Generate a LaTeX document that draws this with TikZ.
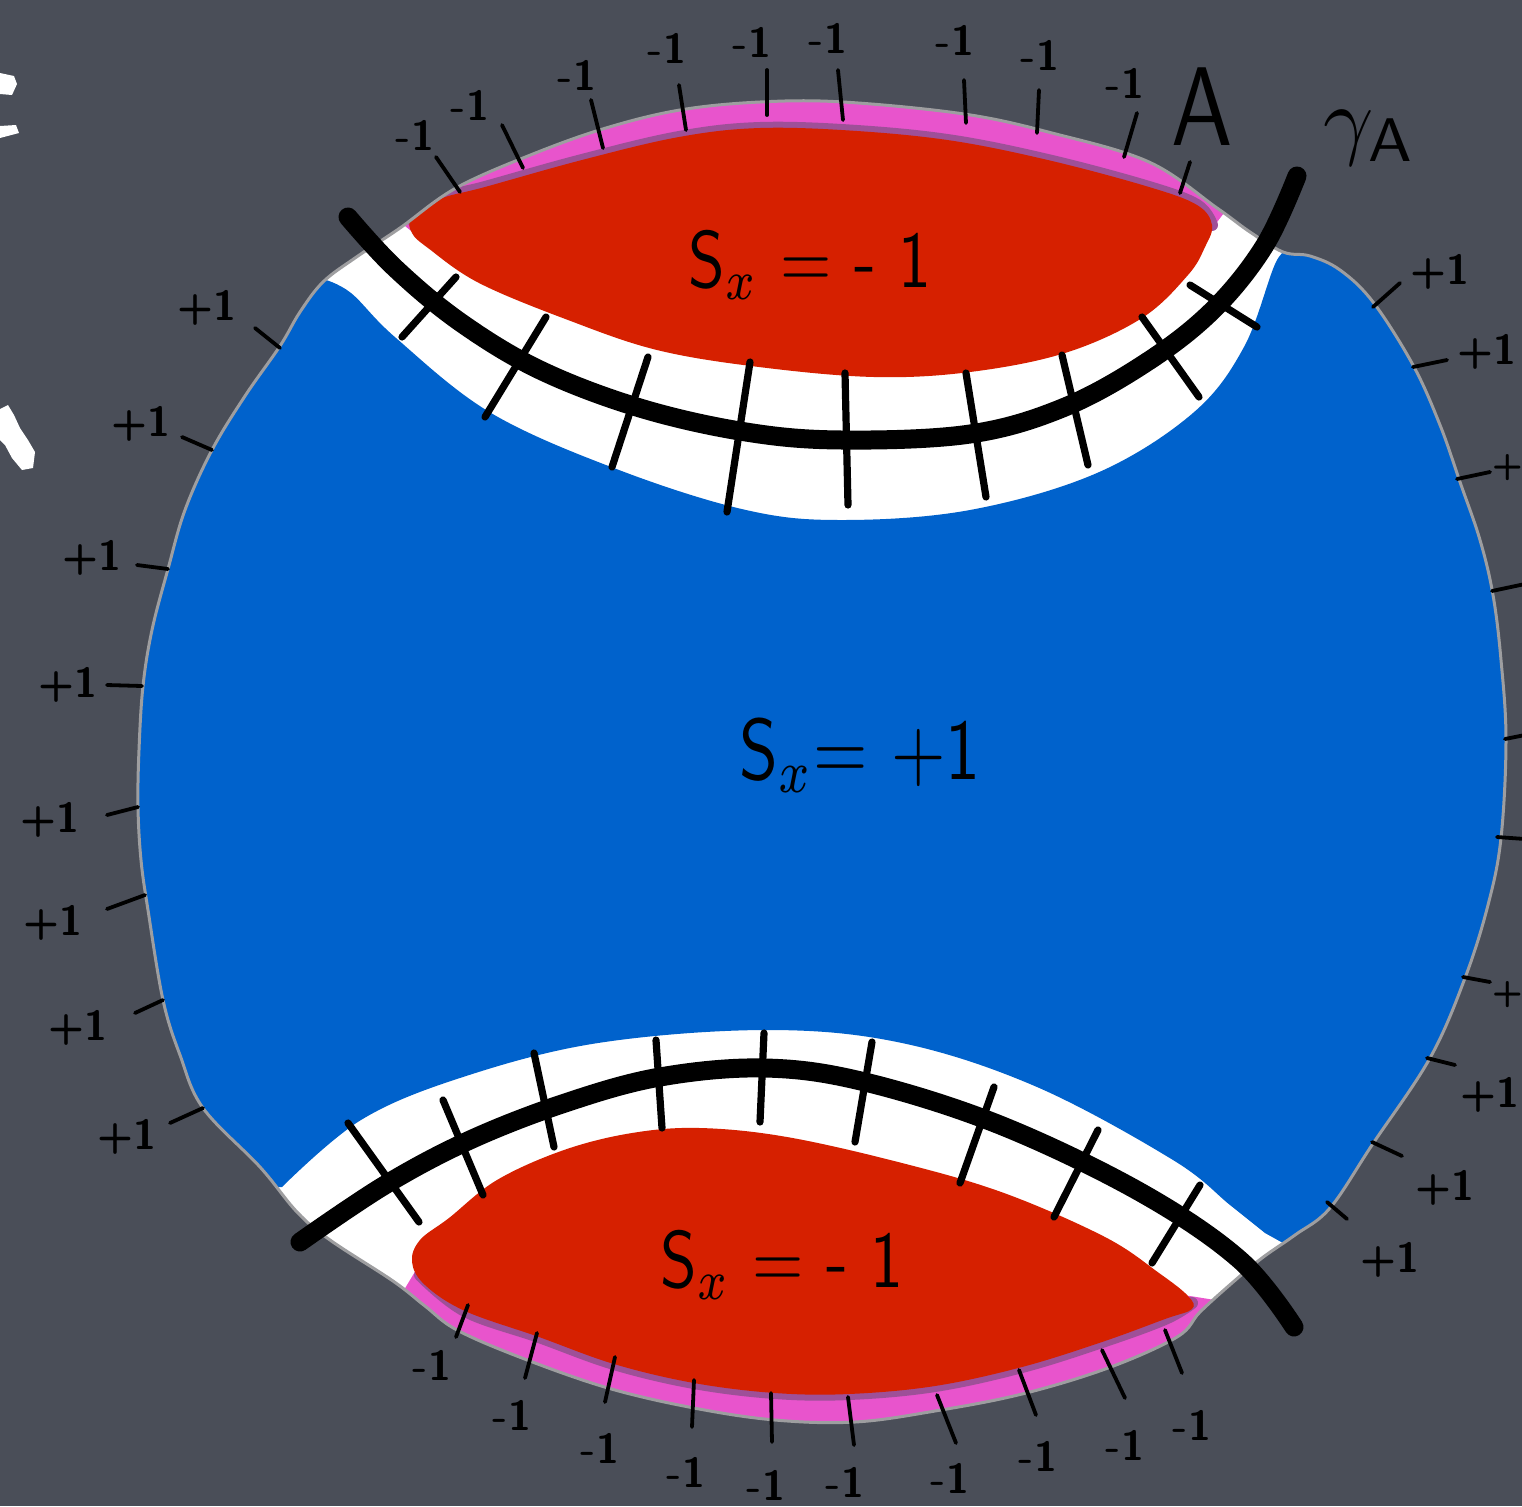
\documentclass[tikz,border=0pt]{standalone}
\usepackage{tikz}
\definecolor{board}{RGB}{74,78,88}
\definecolor{rimgray}{RGB}{158,158,160}
\definecolor{redfill}{RGB}{214,32,0}
\definecolor{bluefill}{RGB}{0,98,204}
\definecolor{pinkband}{RGB}{232,84,204}
\definecolor{purpleband}{RGB}{158,80,152}
\begin{document}
\begin{tikzpicture}[x=0.5pt,y=-0.5pt,
  curve/.style={line width=9.5pt, line cap=round, black},
  cross/.style={line width=3.6pt, line cap=round, black},
  tick/.style={line width=1.9pt, line cap=round, black},
  pm/.style={font=\sffamily\bfseries, scale=2.1, inner sep=0pt, text=black},
  big/.style={inner sep=0pt, text=black, font=\sffamily}]
\def\diskpath{plot[smooth cycle, tension=0.6] coordinates {(843,102) (964,114) (1052,133) (1149,162) (1217,208) (1250,232) (1283,252) (1310,256) (1340,270) (1373,302) (1413,365) (1440,425) (1460,482) (1480,540) (1493,595) (1501,660) (1506,740) (1501,838) (1488,905) (1465,978) (1430,1058) (1372,1145) (1330,1208) (1295,1235) (1262,1258) (1232,1283) (1200,1312) (1177,1337) (1108,1368) (1022,1394) (935,1411) (855,1422) (775,1420) (694,1408) (608,1388) (522,1358) (457,1330) (425,1306) (393,1281) (330,1240) (297,1212) (260,1167) (203,1108) (180,1055) (163,1000) (148,910) (141,860) (138,807) (139,750) (143,686) (152,630) (168,569) (185,510) (212,450) (245,396) (280,346) (300,312) (323,282) (355,258) (400,228) (456,188) (533,154) (606,128) (680,110) (760,102)}}
\clip (0,0) rectangle (1522,1506);
\fill[board] (0,0) rectangle (1522,1506);
% disk
\fill[white] \diskpath;
\begin{scope}
  \clip \diskpath;
  % pink bands
  \fill[pinkband] (425,242) -- (400,222) -- (400,40) -- (1230,40) -- (1230,205) -- (1208,234) -- cycle;
  \fill[pinkband] (425,1255) -- (398,1300) -- (398,1500) -- (1215,1500) -- (1215,1300) -- (1190,1296) -- cycle;
  \draw[purpleband, line width=6pt, line cap=round] plot[smooth, tension=0.6] coordinates {(414,222) (440,199) (485,187) (582,160) (679,137) (760,128) (857,131) (954,141) (1052,161) (1149,187) (1197,205) (1212,225)};
  \draw[purpleband, line width=6pt, line cap=round] plot[smooth, tension=0.6] coordinates {(420,1275) (465,1311) (539,1337) (614,1364) (694,1383) (775,1393) (849,1394) (935,1386) (1022,1367) (1102,1342) (1165,1319) (1192,1303)};
  % blue
  \fill[bluefill] plot[smooth, tension=0.6] coordinates {(323,279) (351,293) (396,338) (491,413) (619,470) (746,510) (842,520) (970,510) (1097,473) (1193,413) (1244,347) (1276,262) (1292,250)} -- (1600,250) -- (1600,1185) -- (1385,1185) -- (1340,1215) -- (1292,1248) -- plot[smooth, tension=0.6] coordinates {(1265,1233) (1230,1205) (1173,1160) (1037,1087) (902,1043) (767,1030) (598,1043) (463,1077) (361,1120) (282,1187)} -- (-100,1187) -- (-100,279) -- cycle;
  % red regions
  \fill[redfill] plot[smooth cycle, tension=0.6] coordinates {(412,218) (440,199) (485,187) (582,160) (679,137) (760,128) (857,131) (954,141) (1052,161) (1149,187) (1197,205) (1212,225) (1205,247) (1188,275) (1142,318) (1065,353) (970,372) (874,377) (759,367) (657,350) (568,320) (479,283) (428,248) (412,233)};
  \fill[redfill] plot[smooth cycle, tension=0.6] coordinates {(412,1262) (420,1240) (449,1218) (497,1180) (564,1150) (632,1133) (700,1128) (787,1137) (902,1163) (1004,1193) (1105,1237) (1159,1273) (1188,1296) (1192,1309) (1165,1319) (1102,1342) (1022,1367) (935,1386) (849,1394) (775,1393) (694,1383) (614,1364) (539,1337) (465,1311) (425,1285)};
\end{scope}
\draw[rimgray, line width=1.5pt] \diskpath;
% gamma_A curves
\draw[curve] plot[smooth, tension=0.6] coordinates {(348,217) (395,268) (460,322) (540,370) (640,408) (746,432) (842,440) (970,434) (1065,407) (1150,360) (1215,308) (1265,245) (1297,176)};
\draw[curve] plot[smooth, tension=0.6] coordinates {(300,1242) (385,1185) (470,1140) (565,1103) (660,1077) (765,1068) (865,1082) (1000,1125) (1140,1192) (1240,1260) (1294,1327)};
\foreach \a/\b/\c/\d in {456/277/402/337, 546/317/485/417, 648/357/612/467, 750/362/727/512, 845/373/848/505, 966/373/986/497, 1062/355/1088/465, 1142/317/1199/397, 1190/285/1257/327,
  348/1123/419/1222, 443/1100/483/1195, 534/1053/554/1147, 656/1040/662/1128, 764/1033/760/1122, 872/1042/855/1142, 994/1087/960/1183, 1098/1130/1054/1217, 1200/1185/1152/1263}
  \draw[cross] (\a,\b) -- (\c,\d);
% outer ticks
\foreach \a/\b/\c/\d in {460/192/436/157, 523/168/502/125, 603/148/591/100, 686/130/679/85, 767/115/767/70, 843/120/838/70, 966/123/964/80, 1037/133/1039/90, 1124/157/1137/113, 1180/193/1190/162,
  280/348/255/328, 212/450/182/437, 168/569/137/565, 142/686/107/685, 138/807/107/815, 145/895/107/909, 163/1000/135/1013, 203/1108/170/1123,
  1373/307/1400/283, 1413/367/1447/360, 1457/479/1490/472, 1492/591/1525/584, 1505/739/1525/735, 1497/837/1525/839, 1463/977/1490/982, 1427/1058/1455/1065, 1372/1142/1402/1156, 1327/1202/1347/1219,
  468/1305/456/1337, 537/1333/525/1378, 615/1357/605/1402, 694/1380/692/1427, 771/1393/772/1442, 848/1397/854/1445, 937/1395/956/1443, 1019/1370/1036/1415, 1102/1350/1125/1398, 1165/1330/1182/1373}
  \draw[tick] (\a,\b) -- (\c,\d);
% labels
\foreach \x/\y [count=\i] in {415/135, 470/105, 577/75, 667/48, 752/42, 828/38, 955/40, 1040/55, 1125/83}
  \node[pm] (tm\i) at (\x,\y) {-1};
\foreach \x/\y [count=\i] in {432/1365, 512/1415, 600/1448, 686/1472, 766/1485, 845/1482, 950/1478, 1038/1456, 1125/1445, 1192/1425}
  \node[pm] (bm\i) at (\x,\y) {-1};
\foreach \x/\y [count=\i] in {207/308, 141/424, 92/558, 68/685, 50/820, 53/923, 78/1028, 127/1137}
  \node[pm] (lp\i) at (\x,\y) {+1};
\foreach \x/\y [count=\i] in {1440/272, 1487/352, 1490/1095, 1445/1188, 1390/1260}
  \node[pm] (rp\i) at (\x,\y) {+1};
\node[pm, scale=0.85] (rpa) at (1508,468) {+};
\node[pm, scale=0.85] (rpb) at (1508,995) {+};
\node[big, xscale=3.3, yscale=4.0] (sxtop) at (810,265) {S$_x$ = - 1};
\node[big, xscale=3.5, yscale=4.3] (sxmid) at (860,755) {S$_x$= +1};
\node[big, xscale=3.3, yscale=4.0] (sxbot) at (782,1265) {S$_x$ = - 1};
\node[big, xscale=4.6, yscale=5.6] (labA) at (1202,107) {A};
\node[big, scale=4.4] (labgamma) at (1370,138) {$\gamma_{\mathsf{A}}$};
% chalk marks at the left edge
\fill[white] (0,73) -- (14,76) -- (17,84) -- (12,95) -- (0,94) -- cycle;
\fill[white] (0,126) -- (16,125) -- (19,133) -- (0,138) -- cycle;
\fill[white] (0,409) -- (8,405) -- (14,415) -- (20,428) -- (28,440) -- (35,452) -- (33,468) -- (22,470) -- (12,458) -- (5,445) -- (0,440) -- cycle;
\end{tikzpicture}
\end{document}
